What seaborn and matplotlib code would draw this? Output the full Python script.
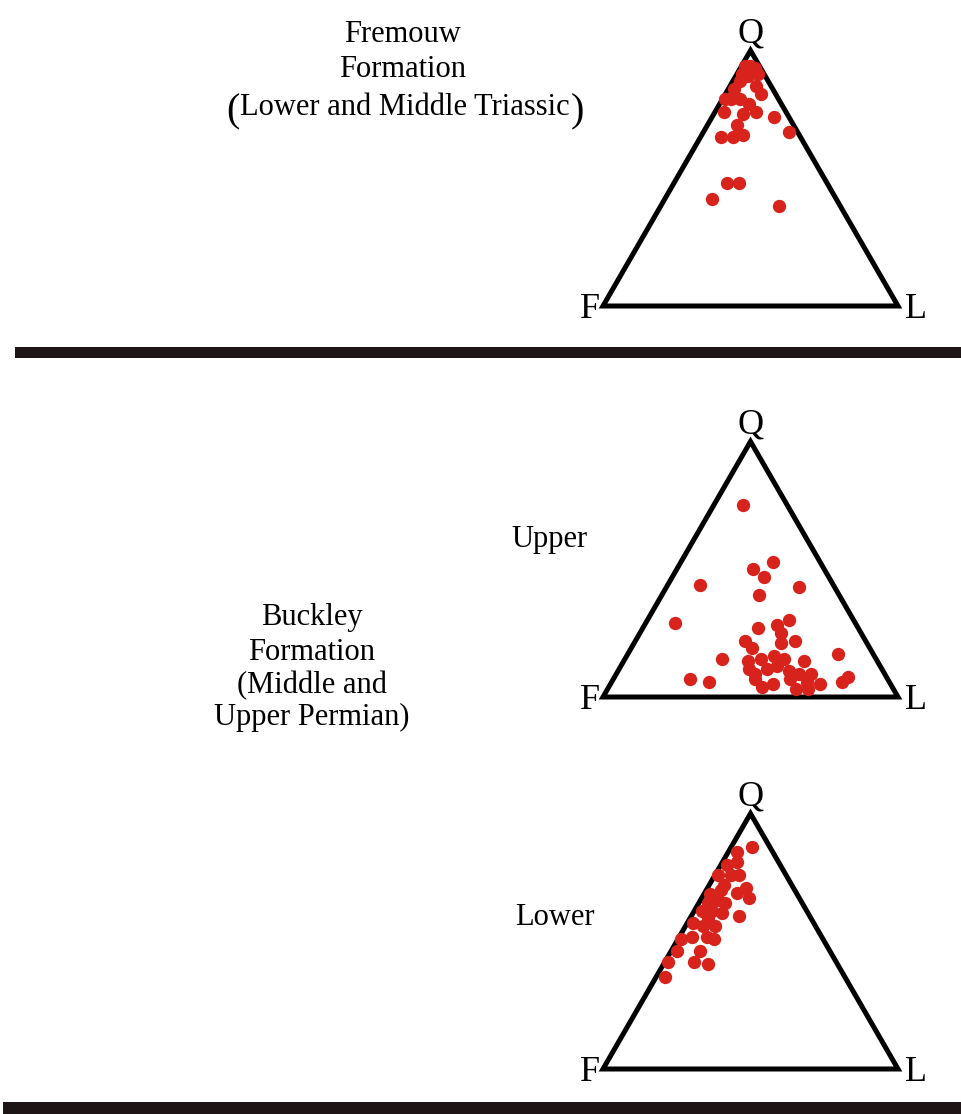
import numpy as np
import pandas as pd
import matplotlib
matplotlib.use("Agg")
import matplotlib.pyplot as plt
import seaborn as sns
from matplotlib.patches import Polygon, Rectangle

# QFL modes (%); F = 100 - Q - L
fremouw_q = [94, 94, 93, 91, 91, 90, 88, 86, 83, 85, 81, 81, 81, 79, 76, 76, 75, 74,
             71, 66, 66, 67, 68, 48, 48, 42, 39]
fremouw_l = [1, 3, 5, 7, 1.5, 4, 2.5, 9, 12, 2, 1, 3, 6, 10, 14, 3, 10, 21,
             10, 7, 11, 14, 29, 18, 22, 16, 40]

upper_q = [75, 53, 50, 47, 44, 43, 40, 29, 27, 30, 28, 22, 25, 22, 17, 15, 7, 6, 8, 6,
           19, 21, 14, 15, 16, 15, 14, 11, 9, 11, 12, 10, 9, 9, 7, 4, 5, 7, 3, 6, 3, 5]
upper_l = [10, 31, 26, 31, 11, 45, 33, 10, 39, 48, 45, 37, 48, 54, 71, 33, 26, 33, 79, 78,
           41, 50, 42, 46, 50, 54, 61, 44, 47, 50, 53, 58, 62, 66, 48, 52, 55, 60, 64, 66, 68, 71]

lower_q = [87, 85, 81, 80, 76, 76, 76, 72, 71, 69, 67, 70, 68.5, 65, 66, 65, 62, 62, 61, 60,
           59, 56, 57, 56, 51.5, 51, 51.5, 51, 46, 46, 42, 41, 42, 36]
lower_l = [7, 3, 5, 2, 5.5, 8, 1, 5, 13, 11, 16, 5, 2, 3, 6, 9, 2.5, 6, 10, 16,
           6, 10, 2, 6, 4.5, 1, 9.5, 12, 2, 10, 10, 15, 1, 3]

apex_labels = ["Q", "F", "L"]

sns.set_theme(style="white")
plt.rcParams['font.family'] = ['Liberation Serif', 'DejaVu Serif']
plt.rcParams['text.color'] = 'black'

W, H = 962, 1114
H3 = np.sqrt(3) / 2
RED = "#d8231d"
INK = "#1e1616"

fig = plt.figure(figsize=(W / 100, H / 100), dpi=100)
fig.patch.set_facecolor("white")

# background axes in pixel units for separators and captions
bg = fig.add_axes([0, 0, 1, 1])
bg.set_xlim(0, W)
bg.set_ylim(H, 0)
bg.axis("off")


def to_xy(q, l):
    df = pd.DataFrame({"Q": q, "L": l})
    df["F"] = 100 - df["Q"] - df["L"]
    df["x"] = (df["L"] + df["Q"] / 2) / 100
    df["y"] = df["Q"] / 100 * H3
    return df


def ternary(base_y, q, l):
    side = 295
    ax = fig.add_axes([603 / W, 1 - base_y / H, side / W, side * H3 / H])
    ax.set_xlim(0, 1)
    ax.set_ylim(0, H3)
    ax.axis("off")
    tri = Polygon([(0, 0), (1, 0), (0.5, H3)], closed=True, fill=False,
                  edgecolor="black", lw=3.6, joinstyle="miter", clip_on=False, zorder=2)
    ax.add_patch(tri)
    df = to_xy(q, l)
    sns.scatterplot(data=df, x="x", y="y", ax=ax, color=RED, s=92, edgecolor=RED,
                    linewidth=0, legend=False, clip_on=False, zorder=3)
    px = 1 / side
    ax.text(0.5, H3 + 8 * px, apex_labels[0], ha="center", va="baseline", fontsize=26)
    ax.text(-3 * px, -12 * px, apex_labels[1], ha="right", va="baseline", fontsize=26)
    ax.text(1 + 7 * px, -12 * px, apex_labels[2], ha="left", va="baseline", fontsize=26)
    return ax


ternary(306, fremouw_q, fremouw_l)
ternary(697, upper_q, upper_l)
ternary(1069, lower_q, lower_l)

# separators
bg.add_patch(Rectangle((15, 347), W - 15, 11, color=INK, lw=0))
bg.add_patch(Rectangle((3, 1102), W - 3, 12, color=INK, lw=0))

fs = 22
bg.text(402, 42, "Fremouw", ha="center", va="baseline", fontsize=fs)
bg.text(403, 77, "Formation", ha="center", va="baseline", fontsize=fs)
mid = bg.text(405, 115, "Lower and Middle Triassic", ha="center", va="baseline", fontsize=fs)
fig.canvas.draw()
bb = mid.get_window_extent()
bg.text(bb.x0 - 1, 121, "(", ha="right", va="baseline", fontsize=29)
bg.text(bb.x1 + 1, 121, ")", ha="left", va="baseline", fontsize=29)

bg.text(312, 625, "Buckley", ha="center", va="baseline", fontsize=fs)
bg.text(312, 660, "Formation", ha="center", va="baseline", fontsize=fs)
bg.text(312, 693, "(Middle and", ha="center", va="baseline", fontsize=fs)
bg.text(312, 725, "Upper Permian)", ha="center", va="baseline", fontsize=fs)

bg.text(549, 547, "Upper", ha="center", va="baseline", fontsize=fs)
bg.text(555, 925, "Lower", ha="center", va="baseline", fontsize=fs)

fig.savefig("out.png", dpi=100, facecolor="white")
